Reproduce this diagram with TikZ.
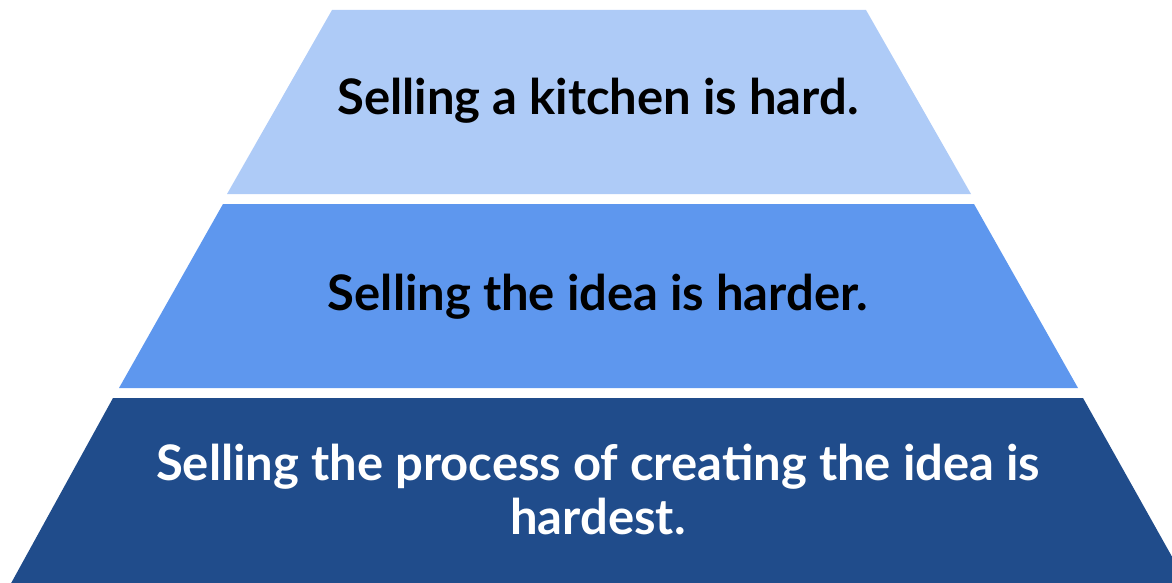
\documentclass[tikz,border=0pt]{standalone}
\usepackage{fontspec}
\setmainfont{Lato}[UprightFont=* Bold]
\definecolor{tierlight}{HTML}{AECBF7}
\definecolor{tiermid}{HTML}{5E97EE}
\definecolor{tierdark}{HTML}{204C8B}
\begin{document}
\begin{tikzpicture}[x=1pt,y=-1pt,
  tiertext/.style={font=\fontsize{49}{54}\selectfont, align=center, inner sep=0pt}]
\useasboundingbox (0,0) rectangle (1172,583);
\begin{scope}
\clip (0,0) rectangle (1172,583);
% three stacked trapezoids of the pyramid
\fill[tierlight] (332,10) -- (866,10) -- (971,194) -- (227,194) -- cycle;
\fill[tiermid] (223,204) -- (974,204) -- (1078,388) -- (119,388) -- cycle;
\fill[tierdark] (113,398) -- (1083,398) -- (1189,587) -- (9,587) -- cycle;
\end{scope}
% tier labels
\node[tiertext, text=black] (t1) at (598,101) {Selling a kitchen is hard.};
\node[tiertext, text=black] (t2) at (598,297) {Selling the idea is harder.};
\node[tiertext, text=white] (t3) at (598,489) {Selling the process of creating the idea is\\hardest.};
\end{tikzpicture}
\end{document}
